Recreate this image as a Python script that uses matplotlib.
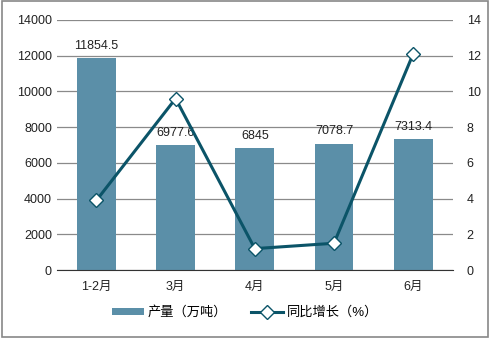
import matplotlib
matplotlib.use('Agg')
import matplotlib.pyplot as plt
from matplotlib.patches import Rectangle

plt.rcParams['font.family'] = ['Liberation Sans', 'Noto Sans CJK SC', 'DejaVu Sans']

months = ['1-2月', '3月', '4月', '5月', '6月']
output = [11854.5, 6977.6, 6845, 7078.7, 7313.4]
growth = [3.9, 9.6, 1.2, 1.5, 12.1]
bar_labels = ['11854.5', '6977.6', '6845', '7078.7', '7313.4']

bar_color = '#5B8FA8'
line_color = '#0B5468'

fig = plt.figure(figsize=(4.9, 3.38), dpi=100)
fig.patches.append(Rectangle((0.004, 0.004), 0.992, 0.992, transform=fig.transFigure,
                             fill=False, edgecolor='#888888', linewidth=1.2))
ax = fig.add_axes([0.116, 0.201, 0.808, 0.740])
x = range(len(months))
bars = ax.bar(x, output, width=0.49, color=bar_color, zorder=2, label='产量（万吨）')
for i, v in enumerate(output):
    ax.text(i, v + 350, bar_labels[i], ha='center', va='bottom', fontsize=9, color='#222222')

ax.set_ylim(0, 14000)
ax.set_yticks(range(0, 14001, 2000))
ax.set_xlim(-0.5, len(months) - 0.5)
ax.set_xticks(list(x))
ax.set_xticklabels(months)
ax.grid(axis='y', color='#8a8a8a', linewidth=0.9, zorder=0)
for s in ['top', 'left', 'right']:
    ax.spines[s].set_visible(False)
ax.spines['bottom'].set_color('#333333')
ax.tick_params(axis='both', length=0, labelsize=9, colors='#222222')
ax.tick_params(axis='x', pad=8)

ax2 = ax.twinx()
line, = ax2.plot(list(x), growth, color=line_color, linewidth=2.2, marker='D',
                 markersize=7, markerfacecolor='white', markeredgecolor=line_color,
                 markeredgewidth=1, zorder=3, label='同比增长（%）')
ax2.set_ylim(0, 14)
ax2.set_yticks(range(0, 15, 2))
for s in ['top', 'left', 'right', 'bottom']:
    ax2.spines[s].set_visible(False)
ax2.tick_params(axis='y', length=0, labelsize=9, colors='#222222', pad=10)

fig.legend([bars, line], ['产量（万吨）', '同比增长（%）'], loc='center',
           bbox_to_anchor=(0.5, 0.075), ncol=2, frameon=False, fontsize=9.5,
           handlelength=2.4, handleheight=0.5, columnspacing=1.8, handletextpad=0.3)

fig.savefig('out.png', dpi=100)
